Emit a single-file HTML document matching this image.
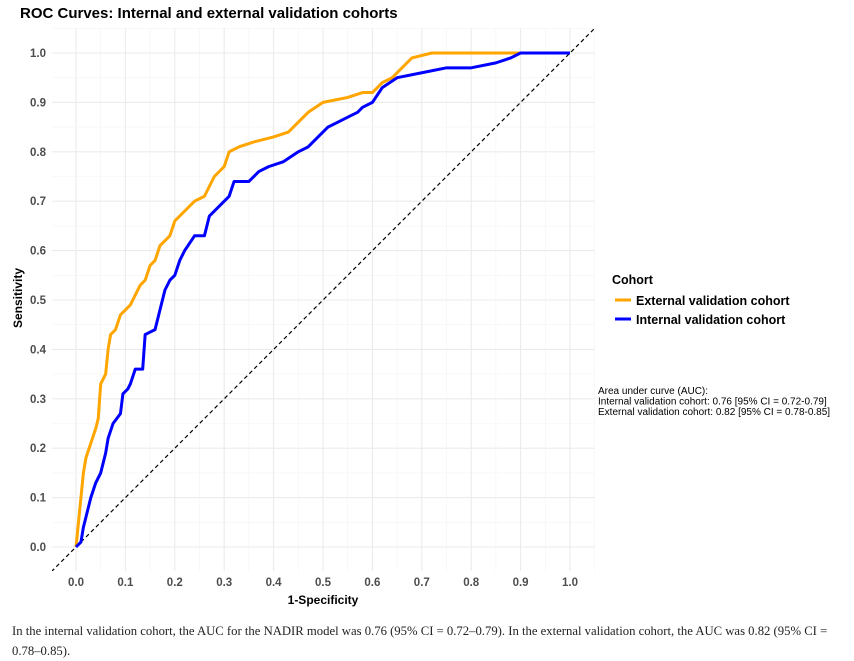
<!DOCTYPE html>
<html><head><meta charset="utf-8"><style>
body{margin:0;background:#fff;width:854px;height:661px;overflow:hidden;font-family:"Liberation Sans",sans-serif}
.cap{position:absolute;left:12px;top:621px;width:835px;font-family:"Liberation Serif",serif;font-size:12.7px;line-height:20px;color:#222}
</style></head><body>
<svg width="854" height="661" style="position:absolute;left:0;top:0" font-family="Liberation Sans, sans-serif">
<text x="20" y="18" font-size="15" font-weight="bold" fill="#000">ROC Curves: Internal and external validation cohorts</text>
<defs><clipPath id="c"><rect x="52" y="28" width="543" height="543"/></clipPath></defs>
<g id="grid"></g>
<g clip-path="url(#c)">
<g transform="translate(76,547) scale(494,-494)" fill="none">
<line x1="-0.1" y1="-0.1" x2="1.1" y2="1.1" stroke="#000" stroke-width="1.2" stroke-dasharray="4,3" vector-effect="non-scaling-stroke"/>
<polyline id="ext" stroke="#FFA500" stroke-width="3" vector-effect="non-scaling-stroke" stroke-linejoin="round"/>
<polyline id="int" stroke="#0000FF" stroke-width="3" vector-effect="non-scaling-stroke" stroke-linejoin="round"/>
</g></g>
<g id="ticks" font-size="11.5" font-weight="bold" fill="#4d4d4d"></g>
<text x="323" y="604" font-size="12" font-weight="bold" text-anchor="middle">1-Specificity</text>
<text transform="translate(22,298) rotate(-90)" font-size="12" font-weight="bold" text-anchor="middle">Sensitivity</text>
<text x="612" y="284" font-size="12.5" font-weight="bold">Cohort</text>
<line x1="615" x2="631" y1="300" y2="300" stroke="#FFA500" stroke-width="3"/>
<text x="636" y="305" font-size="12.5" font-weight="bold">External validation cohort</text>
<line x1="615" x2="631" y1="319" y2="319" stroke="#0000FF" stroke-width="3"/>
<text x="636" y="324" font-size="12.5" font-weight="bold">Internal validation cohort</text>
<text x="598" y="394" font-size="10">Area under curve (AUC):</text>
<text x="598" y="404.5" font-size="10">Internal validation cohort: 0.76 [95% CI = 0.72-0.79]</text>
<text x="598" y="415" font-size="10">External validation cohort: 0.82 [95% CI = 0.78-0.85]</text>
</svg>
<div class="cap">In the internal validation cohort, the AUC for the NADIR model was 0.76 (95% CI = 0.72–0.79). In the external validation cohort, the AUC was 0.82 (95% CI =<br>0.78–0.85).</div>
<script>
const ns="http://www.w3.org/2000/svg";
const g=document.getElementById('grid'),t=document.getElementById('ticks');
function L(x1,y1,x2,y2,c,w){const l=document.createElementNS(ns,'line');l.setAttribute('x1',x1);l.setAttribute('y1',y1);l.setAttribute('x2',x2);l.setAttribute('y2',y2);l.setAttribute('stroke',c);l.setAttribute('stroke-width',w);g.appendChild(l);}
for(let i=-1;i<=21;i++){const v=i*0.05;const px=76+494*v,py=547-494*v;const maj=i%2==0;
 if(px>=52&&px<=595)L(px,28,px,571,maj?'#ebebeb':'#f4f4f4',maj?1.1:0.6);
 if(py>=28&&py<=571)L(52,py,595,py,maj?'#ebebeb':'#f4f4f4',maj?1.1:0.6);}
for(let i=0;i<=10;i++){const v=(i/10).toFixed(1);
 let a=document.createElementNS(ns,'text');a.setAttribute('x',76+49.4*i);a.setAttribute('y',586);a.setAttribute('text-anchor','middle');a.textContent=v;t.appendChild(a);
 let b=document.createElementNS(ns,'text');b.setAttribute('x',46);b.setAttribute('y',551-49.4*i);b.setAttribute('text-anchor','end');b.textContent=v;t.appendChild(b);}
const ext=[[0,0],[0.005,0.05],[0.01,0.1],[0.015,0.15],[0.02,0.18],[0.03,0.21],[0.04,0.24],[0.045,0.26],[0.05,0.33],[0.06,0.35],[0.065,0.4],[0.07,0.43],[0.08,0.44],[0.09,0.47],[0.1,0.48],[0.11,0.49],[0.12,0.51],[0.13,0.53],[0.14,0.54],[0.15,0.57],[0.16,0.58],[0.17,0.61],[0.19,0.63],[0.2,0.66],[0.22,0.68],[0.24,0.7],[0.26,0.71],[0.28,0.75],[0.3,0.77],[0.31,0.8],[0.33,0.81],[0.36,0.82],[0.4,0.83],[0.43,0.84],[0.45,0.86],[0.47,0.88],[0.5,0.9],[0.55,0.91],[0.58,0.92],[0.6,0.92],[0.62,0.94],[0.64,0.95],[0.66,0.97],[0.68,0.99],[0.72,1],[0.89,1],[1,1]];
const int=[[0,0],[0.01,0.01],[0.015,0.04],[0.02,0.06],[0.03,0.1],[0.04,0.13],[0.05,0.15],[0.06,0.19],[0.065,0.22],[0.075,0.25],[0.09,0.27],[0.095,0.31],[0.105,0.32],[0.11,0.33],[0.12,0.36],[0.135,0.36],[0.14,0.43],[0.16,0.44],[0.17,0.48],[0.18,0.52],[0.19,0.54],[0.2,0.55],[0.21,0.58],[0.22,0.6],[0.24,0.63],[0.26,0.63],[0.27,0.67],[0.29,0.69],[0.31,0.71],[0.32,0.74],[0.35,0.74],[0.37,0.76],[0.39,0.77],[0.42,0.78],[0.45,0.8],[0.47,0.81],[0.49,0.83],[0.51,0.85],[0.53,0.86],[0.55,0.87],[0.57,0.88],[0.58,0.89],[0.6,0.9],[0.62,0.93],[0.65,0.95],[0.7,0.96],[0.75,0.97],[0.8,0.97],[0.85,0.98],[0.88,0.99],[0.9,1],[1,1]];
document.getElementById('ext').setAttribute('points',ext.map(p=>p.join(',')).join(' '));
document.getElementById('int').setAttribute('points',int.map(p=>p.join(',')).join(' '));
</script>
</body></html>
